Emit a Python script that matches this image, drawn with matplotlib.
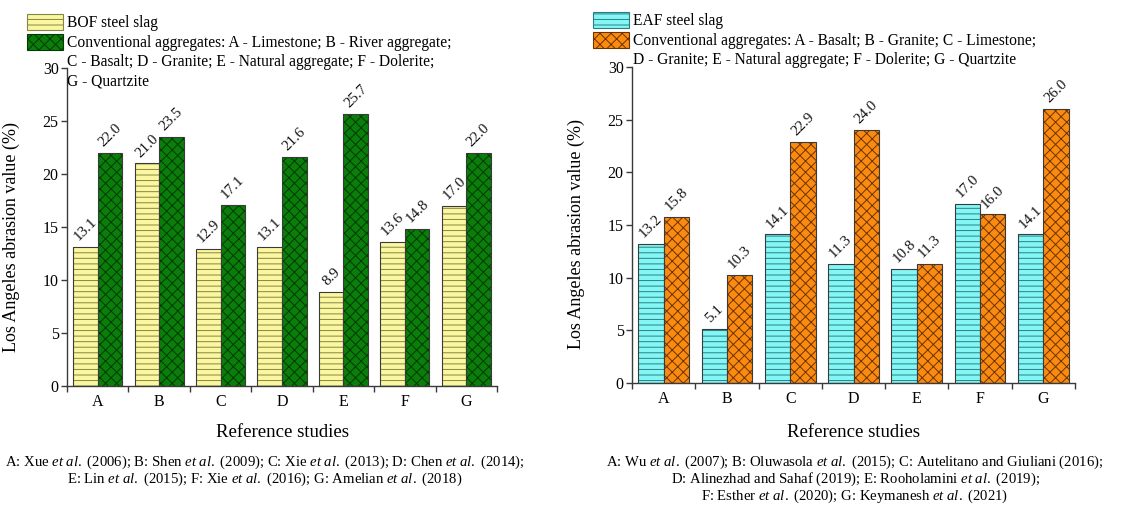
import matplotlib
matplotlib.use("Agg")
import matplotlib.pyplot as plt
from matplotlib.patches import Patch
import numpy as np

plt.rcParams['font.family'] = ['Liberation Serif', 'DejaVu Serif']
plt.rcParams['mathtext.fontset'] = 'custom'
plt.rcParams['mathtext.rm'] = 'Liberation Serif'
plt.rcParams['mathtext.it'] = 'Liberation Serif:italic'
plt.rcParams['hatch.linewidth'] = 0.7

categories = ['A', 'B', 'C', 'D', 'E', 'F', 'G']
bof_slag = [13.1, 21.0, 12.9, 13.1, 8.9, 13.6, 17.0]
bof_conv = [22.0, 23.5, 17.1, 21.6, 25.7, 14.8, 22.0]
eaf_slag = [13.2, 5.1, 14.1, 11.3, 10.8, 17.0, 14.1]
eaf_conv = [15.8, 10.3, 22.9, 24.0, 11.3, 16.0, 26.0]

left_legend = ['BOF steel slag',
               'Conventional aggregates: A - Limestone; B - River aggregate;',
               'C - Basalt; D - Granite; E - Natural aggregate; F - Dolerite;',
               'G - Quartzite']
right_legend = ['EAF steel slag',
                'Conventional aggregates: A - Basalt; B - Granite; C - Limestone;',
                'D - Granite; E - Natural aggregate; F - Dolerite; G - Quartzite']
left_caption = [r'A: Xue $\mathit{et\ al.}$ (2006); B: Shen $\mathit{et\ al.}$ (2009); C: Xie $\mathit{et\ al.}$ (2013); D: Chen $\mathit{et\ al.}$ (2014);',
                r'E: Lin $\mathit{et\ al.}$ (2015); F: Xie $\mathit{et\ al.}$ (2016); G: Amelian $\mathit{et\ al.}$ (2018)']
right_caption = [r'A: Wu $\mathit{et\ al.}$ (2007); B: Oluwasola $\mathit{et\ al.}$ (2015); C: Autelitano and Giuliani (2016);',
                 r'D: Alinezhad and Sahaf (2019); E: Rooholamini $\mathit{et\ al.}$ (2019);',
                 r'F: Esther $\mathit{et\ al.}$ (2020); G: Keymanesh $\mathit{et\ al.}$ (2021)']

W, H = 1132, 507
fig = plt.figure(figsize=(W / 100, H / 100), dpi=100)

def px_axes(l, r, b, t):
    return fig.add_axes([l / W, 1 - b / H, (r - l) / W, (b - t) / H])

ax1 = px_axes(67, 497, 386, 68)
ax2 = px_axes(632, 1075, 383, 67)

bw = 0.4
edge = '#3a3a3a'
H_SLAG = '---'
H_CONV = 'xxx'

def draw(ax, slag, conv, c_slag, h_slag, c_conv, h_conv):
    x = np.arange(len(categories)) + 0.5
    for vals, off, fc, hc, hatch in [(slag, -bw / 2, c_slag, h_slag, H_SLAG),
                                     (conv, bw / 2, c_conv, h_conv, H_CONV)]:
        ax.bar(x + off, vals, bw, color=fc, edgecolor=hc, hatch=hatch, linewidth=0)
        ax.bar(x + off, vals, bw, fill=False, edgecolor=edge, linewidth=0.8)
        for xi, v in zip(x + off, vals):
            ax.text(xi, v + 0.35, f'{v:.1f}', rotation=45, ha='center', va='bottom',
                    fontsize=10.8, color='#111111')
    ax.set_xlim(0, 7)
    ax.set_ylim(0, 30)
    ax.set_xticks(np.arange(0, 8))
    ax.set_xticklabels([])
    ax.set_xticks(x, minor=True)
    ax.set_xticklabels(categories, minor=True, fontsize=11.5)
    ax.tick_params(axis='x', which='minor', length=0, pad=6)
    ax.tick_params(axis='x', which='major', direction='out', length=4, width=1, color=edge)
    ax.set_yticks(np.arange(0, 31, 5))
    ax.tick_params(axis='y', direction='out', length=4, width=1, color=edge, labelsize=11.5, pad=2)
    for s in ['top', 'right']:
        ax.spines[s].set_visible(False)
    for s in ['left', 'bottom']:
        ax.spines[s].set_color(edge)
        ax.spines[s].set_linewidth(1.0)
    ax.set_ylabel('Los Angeles abrasion value (%)', fontsize=13)
    ax.set_xlabel('Reference studies', fontsize=13.5)

draw(ax1, bof_slag, bof_conv, '#fbf7a0', '#868444', '#0a7d0a', '#033a03')
draw(ax2, eaf_slag, eaf_conv, '#84f7f5', '#2a7f86', '#fb8a10', '#6a3300')

ax1.yaxis.set_label_coords(-0.109, 0.47)
ax2.yaxis.set_label_coords(-0.106, 0.47)
ax1.xaxis.set_label_coords(0.5, -0.12)
ax2.xaxis.set_label_coords(0.5, -0.13)

def legend(labels, fcs, hcs, x, y):
    handles = [Patch(facecolor=fcs[0], edgecolor=hcs[0], hatch=H_SLAG, linewidth=0.8),
               Patch(facecolor=fcs[1], edgecolor=hcs[1], hatch=H_CONV, linewidth=0.8)]
    handles += [Patch(facecolor='none', edgecolor='none') for _ in labels[2:]]
    fig.legend(handles, labels, loc='upper left', bbox_to_anchor=(x / W, 1 - y / H),
               frameon=False, fontsize=11.2, borderpad=0, borderaxespad=0,
               handlelength=2.3, handleheight=1.2, handletextpad=0.3, labelspacing=0.15)

legend(left_legend, ['#fbf7a0', '#0a7d0a'], ['#868444', '#033a03'], 27, 14)
legend(right_legend, ['#84f7f5', '#fb8a10'], ['#2a7f86', '#6a3300'], 593, 12)

for i, line in enumerate(left_caption):
    fig.text(265 / W, 1 - (462 + 17 * i) / H, line, ha='center', va='center', fontsize=10.6)
for i, line in enumerate(right_caption):
    fig.text(855 / W, 1 - (462 + 17 * i) / H, line, ha='center', va='center', fontsize=10.6)

fig.savefig('out.png', dpi=100)
